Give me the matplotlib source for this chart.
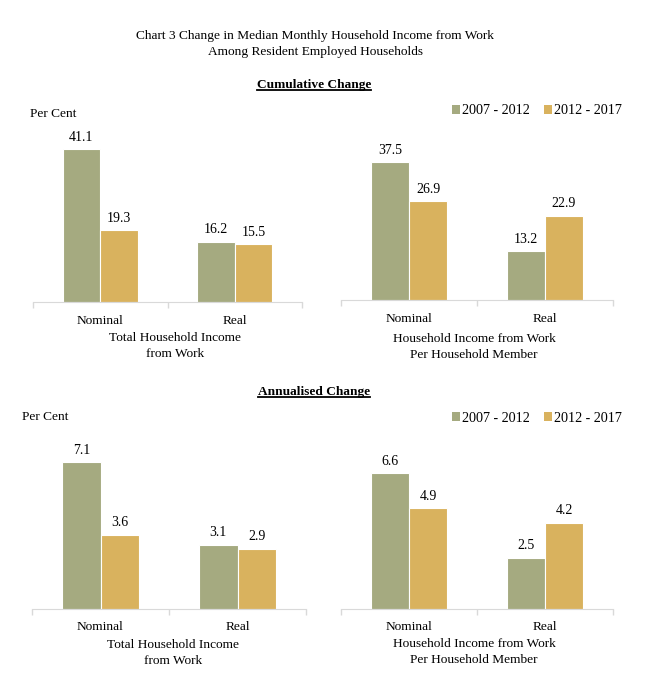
import matplotlib.pyplot as plt
from matplotlib.lines import Line2D
from matplotlib.patches import Patch
import numpy as np

plt.rcParams['font.family'] = ['Liberation Serif', 'DejaVu Serif']

categories = ['Nominal', 'Real']
series_names = ['2007 - 2012', '2012 - 2017']
colors = ['#A5AA80', '#D9B25E']

# cumulative change (per cent)
cum_total = [[41.1, 16.2], [19.3, 15.5]]
cum_member = [[37.5, 13.2], [26.9, 22.9]]
# annualised change (per cent)
ann_total = [[7.1, 3.1], [3.6, 2.9]]
ann_member = [[6.6, 2.5], [4.9, 4.2]]

group_total = 'Total Household Income\nfrom Work'
group_member = 'Household Income from Work\nPer Household Member'

W, H = 651, 675
FS = 9.6
fig = plt.figure(figsize=(W / 100, H / 100), dpi=100)


def px_box(x0, x1, ybot, ytop):
    return [x0 / W, 1 - ybot / H, (x1 - x0) / W, (ybot - ytop) / H]


def draw_panel(rect, data, ymax):
    ax = fig.add_axes(rect)
    x = np.arange(len(categories))
    bw = 0.28
    for i, vals in enumerate(data):
        off = (i - 0.5) * bw
        bars = ax.bar(x + off, vals, bw, color=colors[i], edgecolor='white',
                      linewidth=0.8, label=series_names[i])
        for b, v in zip(bars, vals):
            ax.annotate(f'{v:.1f}', (b.get_x() + b.get_width() / 2, v),
                        xytext=(0, 4), textcoords='offset points',
                        ha='center', va='bottom', fontsize=10)
    ax.set_xlim(-0.5, 1.5)
    ax.set_ylim(0, ymax)
    for s in ['top', 'right', 'left']:
        ax.spines[s].set_visible(False)
    ax.spines['bottom'].set_color('#D9D9D9')
    ax.set_yticks([])
    ax.set_xticks(x)
    ax.set_xticklabels(categories, fontsize=FS)
    ax.tick_params(axis='x', length=0, pad=9)
    ax.set_xticks([-0.5, 0.5, 1.5], minor=True)
    ax.tick_params(axis='x', which='minor', length=4, color='#D9D9D9', width=1)
    return ax


ax1 = draw_panel(px_box(33, 302, 302, 125), cum_total, 47.6)
ax2 = draw_panel(px_box(341, 613, 300, 125), cum_member, 47.6)
ax3 = draw_panel(px_box(32, 306, 609, 430), ann_total, 8.65)
ax4 = draw_panel(px_box(341, 613, 609, 430), ann_member, 8.7)

fig.text(315 / W, 1 - 44 / H,
         'Chart 3 Change in Median Monthly Household Income from Work\nAmong Resident Employed Households',
         ha='center', va='center', fontsize=FS, linespacing=1.35)

headers = []
for txt, yy in [('Cumulative Change', 85), ('Annualised Change', 392)]:
    t = fig.text(314 / W, 1 - yy / H, txt, ha='center', va='center',
                 fontsize=FS, fontweight='bold')
    headers.append(t)

fig.text(30 / W, 1 - 114 / H, 'Per Cent', ha='left', va='center', fontsize=FS)
fig.text(22 / W, 1 - 417 / H, 'Per Cent', ha='left', va='center', fontsize=FS)

for xx, yy, txt in [(175, 346, group_total), (474, 347, group_member),
                    (173, 653, group_total), (474, 652, group_member)]:
    fig.text(xx / W, 1 - yy / H, txt, ha='center', va='center',
             fontsize=FS, linespacing=1.35)

handles = [Patch(facecolor=c) for c in colors]
for yy in [111, 418]:
    fig.legend(handles, series_names, loc='center', ncol=2,
               bbox_to_anchor=(537 / W, 1 - yy / H), frameon=False,
               fontsize=10.2, handlelength=0.55, handleheight=0.55,
               handletextpad=0.15, columnspacing=1.0, borderpad=0)

# underline the section headers
fig.canvas.draw()
r = fig.canvas.get_renderer()
for t in headers:
    bb = t.get_window_extent(r)
    yl = (bb.y0 + 1) / fig.bbox.height
    fig.add_artist(Line2D([bb.x0 / fig.bbox.width, bb.x1 / fig.bbox.width], [yl, yl],
                          color='black', lw=1.3))

fig.savefig('out.png', dpi=100)
